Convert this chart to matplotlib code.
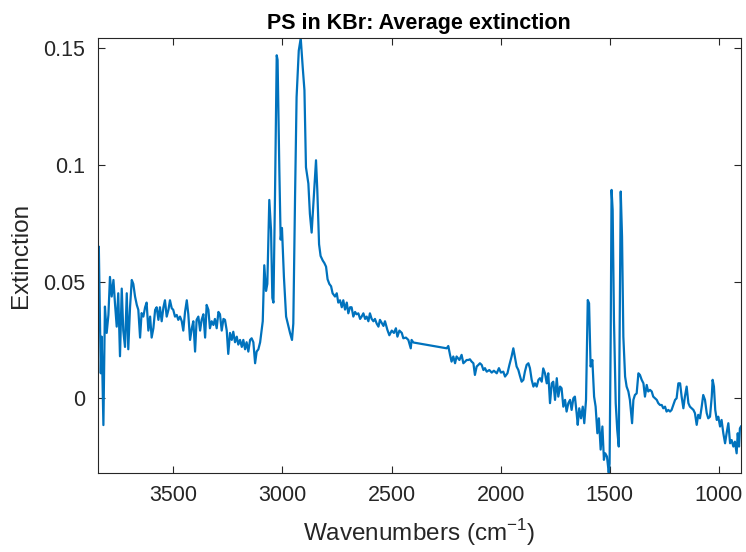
import matplotlib
matplotlib.use("Agg")
import matplotlib.pyplot as plt
from matplotlib.ticker import FuncFormatter

# Average extinction spectrum of PS in KBr
wavenumbers = [
    3846, 3841, 3835, 3832, 3828, 3820, 3813, 3805, 3797, 3790, 3782, 3774, 3767, 3759,
    3752, 3744, 3736, 3729, 3721, 3713, 3706, 3698, 3690, 3683, 3675, 3667, 3660, 3652,
    3645, 3637, 3629, 3622, 3614, 3606, 3599, 3591, 3583, 3576, 3568, 3561, 3553, 3545,
    3538, 3530, 3522, 3515, 3507, 3500, 3492, 3484, 3477, 3469, 3461, 3454, 3446, 3438,
    3431, 3423, 3415, 3408, 3400, 3393, 3385, 3377, 3370, 3362, 3354, 3347, 3339, 3332,
    3324, 3316, 3309, 3301, 3293, 3286, 3278, 3270, 3263, 3255, 3248, 3240, 3232, 3225,
    3217, 3209, 3202, 3194, 3186, 3179, 3171, 3164, 3156, 3148, 3141, 3133, 3125, 3118,
    3110, 3102, 3090, 3083, 3075, 3069, 3060, 3052, 3046, 3041, 3034, 3026, 3022, 3014,
    3008, 3002, 2993, 2983, 2973, 2965, 2956, 2950, 2942, 2935, 2925, 2916, 2907, 2899,
    2892, 2881, 2874, 2866, 2858, 2846, 2840, 2832, 2825, 2815, 2808, 2800, 2793, 2785,
    2777, 2770, 2759, 2751, 2744, 2736, 2728, 2721, 2713, 2705, 2698, 2690, 2683, 2675,
    2667, 2660, 2652, 2644, 2637, 2629, 2621, 2614, 2606, 2599, 2591, 2583, 2576, 2568,
    2560, 2553, 2537, 2530, 2519, 2510, 2499, 2489, 2480, 2473, 2464, 2453, 2446, 2434,
    2423, 2412, 2408, 2400, 2247, 2240, 2232, 2225, 2217, 2209, 2202, 2189, 2179, 2171,
    2163, 2156, 2148, 2141, 2133, 2125, 2118, 2110, 2102, 2095, 2087, 2079, 2072, 2064,
    2052, 2041, 2031, 2018, 2008, 1999, 1988, 1980, 1969, 1960, 1950, 1942, 1934, 1927,
    1919, 1911, 1904, 1896, 1889, 1881, 1873, 1866, 1858, 1850, 1843, 1835, 1827, 1820,
    1812, 1805, 1797, 1789, 1782, 1774, 1766, 1759, 1751, 1743, 1736, 1728, 1721, 1713,
    1705, 1698, 1690, 1682, 1675, 1667, 1660, 1652, 1647, 1640, 1632, 1624, 1617, 1609,
    1601, 1595, 1588, 1580, 1572, 1565, 1557, 1550, 1542, 1534, 1527, 1521, 1513, 1505,
    1501, 1496, 1492, 1487, 1481, 1473, 1466, 1459, 1455, 1450, 1444, 1438, 1430, 1423,
    1415, 1408, 1398, 1392, 1385, 1377, 1369, 1362, 1354, 1346, 1339, 1331, 1324, 1316,
    1308, 1301, 1293, 1285, 1278, 1270, 1262, 1255, 1247, 1240, 1232, 1224, 1217, 1209,
    1201, 1194, 1186, 1178, 1171, 1163, 1156, 1148, 1140, 1133, 1125, 1117, 1110, 1102,
    1095, 1087, 1079, 1072, 1064, 1056, 1049, 1041, 1033, 1029, 1023, 1017, 1010, 1003,
    995, 988, 980, 972, 965, 957, 949, 942, 934, 927, 919, 914, 908, 904, 899,
]
extinction = [
    0.035, 0.065, 0.029, 0.0107, 0.0264, -0.0115, 0.0393, 0.028, 0.0357, 0.052, 0.0436, 0.0507, 0.0407, 0.0307,
    0.045, 0.018, 0.047, 0.029, 0.022, 0.045, 0.021, 0.039, 0.0507, 0.049, 0.0436, 0.040, 0.0379, 0.026,
    0.0365, 0.035, 0.039, 0.041, 0.029, 0.035, 0.026, 0.030, 0.0379, 0.039, 0.0336, 0.039, 0.033, 0.039,
    0.042, 0.035, 0.0379, 0.042, 0.0386, 0.0379, 0.035, 0.0357, 0.0336, 0.035, 0.033, 0.029, 0.037, 0.042,
    0.036, 0.025, 0.030, 0.033, 0.020, 0.0336, 0.035, 0.029, 0.0336, 0.036, 0.026, 0.040, 0.0379, 0.030,
    0.033, 0.0314, 0.034, 0.030, 0.037, 0.036, 0.029, 0.034, 0.0336, 0.029, 0.019, 0.028, 0.025, 0.0285,
    0.024, 0.0264, 0.023, 0.025, 0.022, 0.025, 0.021, 0.024, 0.020, 0.025, 0.0257, 0.024, 0.015, 0.020,
    0.021, 0.024, 0.033, 0.057, 0.046, 0.049, 0.085, 0.072, 0.043, 0.041, 0.086, 0.147, 0.145, 0.098,
    0.068, 0.073, 0.052, 0.035, 0.031, 0.028, 0.025, 0.032, 0.0864, 0.129, 0.149, 0.1543, 0.142, 0.132,
    0.099, 0.092, 0.079, 0.071, 0.0836, 0.102, 0.089, 0.066, 0.061, 0.059, 0.058, 0.0564, 0.051, 0.049,
    0.048, 0.045, 0.0436, 0.045, 0.041, 0.042, 0.039, 0.042, 0.038, 0.041, 0.0364, 0.039, 0.039, 0.035,
    0.037, 0.036, 0.0364, 0.034, 0.035, 0.0364, 0.034, 0.035, 0.033, 0.0364, 0.034, 0.033, 0.034, 0.032,
    0.0307, 0.0336, 0.031, 0.033, 0.0293, 0.027, 0.029, 0.028, 0.030, 0.0264, 0.029, 0.028, 0.0257, 0.026,
    0.025, 0.0214, 0.025, 0.0239, 0.0214, 0.0224, 0.0186, 0.0157, 0.0179, 0.015, 0.0179, 0.0164, 0.0186, 0.015,
    0.0157, 0.0164, 0.0164, 0.0167, 0.0157, 0.015, 0.010, 0.0136, 0.0143, 0.015, 0.0143, 0.0121, 0.0129, 0.0114,
    0.0121, 0.011, 0.0118, 0.0107, 0.0129, 0.011, 0.0114, 0.0093, 0.0107, 0.0143, 0.0179, 0.0214, 0.0171, 0.0136,
    0.0121, 0.0093, 0.0071, 0.0079, 0.0114, 0.0143, 0.015, 0.0129, 0.0079, 0.005, 0.0064, 0.005, 0.0079, 0.0086,
    0.0071, 0.0128, 0.0107, 0.0064, 0.0107, -0.0021, 0.0064, 0.0071, -0.0007, 0.0086, 0.0007, 0.005, 0.0043, -0.0036,
    -0.0007, -0.0057, -0.0021, -0.0007, -0.005, 0.0, 0.0007, -0.0064, -0.0114, -0.0043, -0.0086, -0.0036, -0.0107, -0.0007,
    0.0421, 0.0407, 0.0136, 0.0164, 0.0007, -0.0036, -0.015, -0.0086, -0.022, -0.0121, -0.0264, -0.0236, -0.025, -0.0319,
    -0.028, 0.0264, 0.0893, 0.0807, 0.0336, -0.0021, -0.0136, -0.0207, 0.0264, 0.0886, 0.0693, 0.0264, 0.0093, 0.005,
    0.0029, -0.0007, -0.0107, -0.0007, 0.0014, 0.0021, 0.0107, 0.010, 0.0079, 0.0064, 0.0007, 0.0057, 0.0029, 0.0036,
    0.0029, 0.0007, 0.0, -0.0007, -0.0021, -0.0029, -0.0029, -0.0043, -0.0036, -0.0057, -0.005, -0.0057, -0.005, -0.0029,
    -0.0007, 0.0, 0.0064, 0.0064, 0.0007, -0.0043, 0.0007, 0.005, -0.0021, -0.0036, -0.0043, -0.005, -0.0064, -0.0114,
    -0.0071, -0.0086, -0.0036, 0.0014, -0.0007, -0.0064, -0.0086, -0.0079, 0.0007, 0.0079, 0.005, -0.005, -0.0093, -0.0079,
    -0.0121, -0.0093, -0.015, -0.0193, -0.015, -0.0107, -0.0193, -0.0179, -0.0207, -0.0186, -0.0236, -0.015, -0.0207, -0.0129, -0.0121,
]

x_ticks = [3500, 3000, 2500, 2000, 1500, 1000]
y_ticks = [0, 0.05, 0.1, 0.15]

plt.rcParams['font.family'] = ['Liberation Sans', 'DejaVu Sans']
plt.rcParams['mathtext.fontset'] = 'custom'
plt.rcParams['mathtext.rm'] = 'Liberation Sans'

dark = '#262626'

fig = plt.figure(figsize=(7.46, 5.52), dpi=100)
ax = fig.add_axes([0.131, 0.1437, 0.8623, 0.787])

ax.plot(wavenumbers, extinction, color='#0072BD', linewidth=1.6)

ax.set_xlim(3846, 899)
ax.set_ylim(-0.0319, 0.1543)
ax.set_xticks(x_ticks)
ax.set_yticks(y_ticks)
ax.yaxis.set_major_formatter(FuncFormatter(lambda v, p: '%g' % v))

ax.tick_params(direction='in', top=True, right=True, length=5, width=0.8,
               color=dark, labelcolor=dark, labelsize=15.5, pad=9)
for s in ax.spines.values():
    s.set_color(dark)
    s.set_linewidth(0.8)

ax.set_xlabel('Wavenumbers (cm$^{\\mathregular{-1}}$)', fontsize=17.5, color=dark, labelpad=8)
ax.set_ylabel('Extinction', fontsize=17.5, color=dark, labelpad=8)
ax.set_title('PS in KBr: Average extinction', fontsize=15.5, fontweight='bold', color='black', pad=7)

fig.savefig('out.png', dpi=100)
